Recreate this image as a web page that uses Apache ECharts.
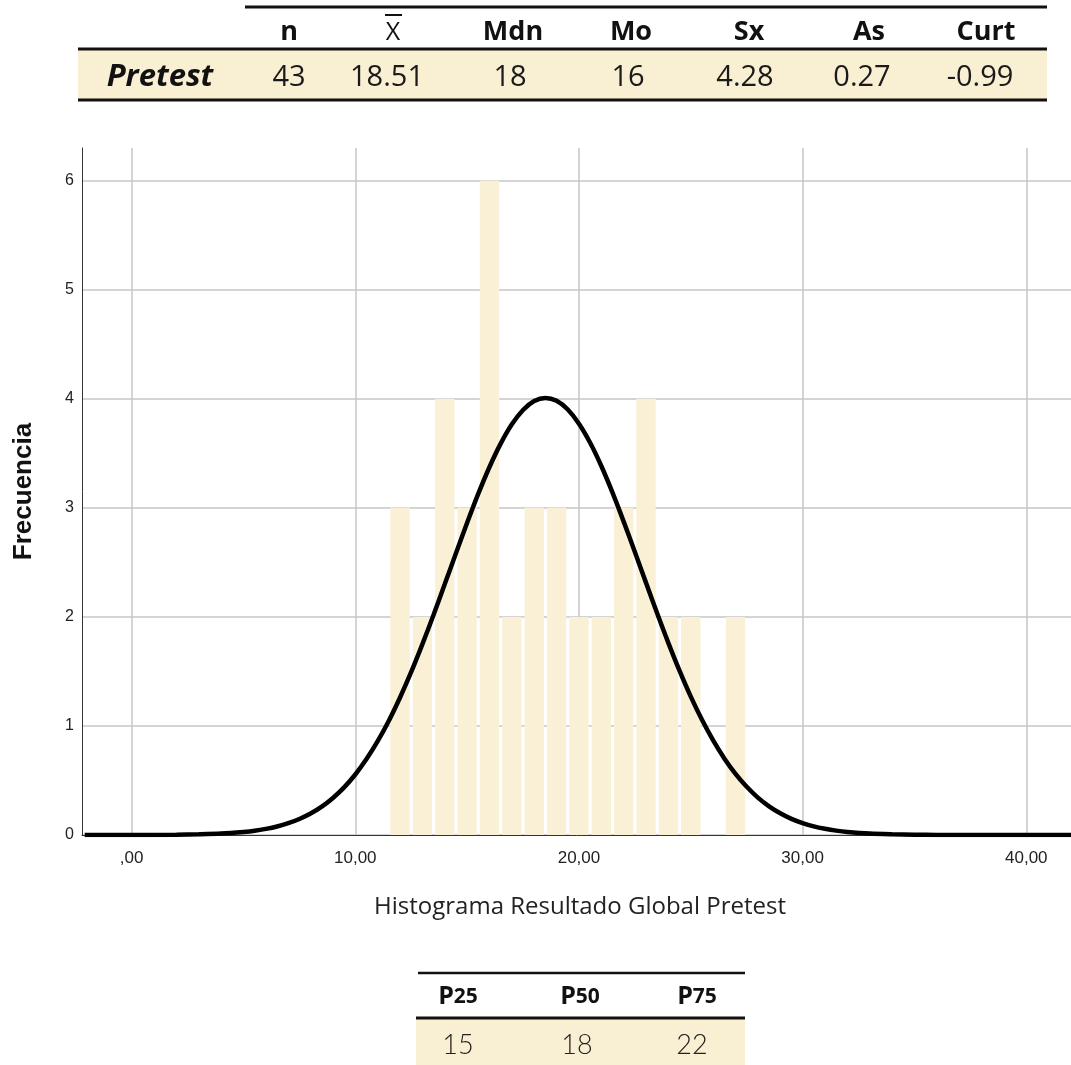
<!DOCTYPE html>
<html>
<head>
<meta charset="utf-8">
<script src="https://cdn.jsdelivr.net/npm/echarts@6/dist/echarts.min.js"></script>
<style>
html,body{margin:0;padding:0;background:#fff;}
#c{width:1071px;height:1065px;}
</style>
</head>
<body>
<div id="c"></div>
<script>
// ---- data ----
var binCenters = [12, 13, 14, 15, 16, 17, 18, 19, 20, 21, 22, 23, 24, 25, 27];
var binCounts  = [3, 2, 4, 3, 6, 2, 3, 3, 2, 2, 3, 4, 2, 2, 2];
var binWidth = 1;
// normal curve points (x, frecuencia)
var curveX = [-2.1, 0, 2, 3, 4, 5, 5.5, 6, 6.5, 7, 7.5, 8, 8.5, 9, 9.5, 10, 10.5, 11, 11.5, 12, 12.5, 13, 13.5, 14, 14.5, 15, 15.5, 16, 16.5, 17, 17.5, 18, 18.5, 19, 19.5, 20, 20.5, 21, 21.5, 22, 22.5, 23, 23.5, 24, 24.5, 25, 25.5, 26, 26.5, 27, 27.5, 28, 28.5, 29, 29.5, 30, 30.5, 31, 31.5, 32, 33, 34, 35, 36, 38, 40, 42];
var curveY = [0, 0, 0.002, 0.006, 0.013, 0.028, 0.039, 0.056, 0.078, 0.108, 0.147, 0.197, 0.260, 0.340, 0.437, 0.555, 0.696, 0.860, 1.048, 1.261, 1.495, 1.750, 2.020, 2.301, 2.584, 2.863, 3.130, 3.375, 3.589, 3.766, 3.898, 3.980, 4.008, 3.982, 3.902, 3.772, 3.597, 3.384, 3.140, 2.874, 2.596, 2.312, 2.031, 1.760, 1.505, 1.269, 1.056, 0.867, 0.702, 0.560, 0.442, 0.343, 0.263, 0.199, 0.148, 0.109, 0.079, 0.057, 0.040, 0.028, 0.013, 0.006, 0.002, 0.001, 0, 0, 0];
var xTickValues = [0, 10, 20, 30, 40];
var xTickLabels = [',00', '10,00', '20,00', '30,00', '40,00'];
var yTickValues = [0, 1, 2, 3, 4, 5, 6];
var statHeaders = ['n', 'X', 'Mdn', 'Mo', 'Sx', 'As', 'Curt'];
var statValues  = ['43', '18.51', '18', '16', '4.28', '0.27', '-0.99'];
var rowLabel = 'Pretest';
var pctHeaders = ['25', '50', '75'];
var pctValues  = ['15', '18', '22'];
var xTitle = 'Histograma Resultado Global Pretest';
var yTitle = 'Frecuencia';

// ---- build ----
var barData = binCenters.map(function (c, i) { return [c, binCounts[i]]; });
var curveData = curveX.map(function (x, i) { return [x, curveY[i]]; });

var cream = '#f9efd3';
var headX = [289, 393, 513, 631, 749, 869, 986];
var valX  = [289, 387, 510, 628, 745, 862, 980];
var pctHX = [458, 580, 697];
var pctVX = [458, 577, 692];

function txt(t, x, y, font, fill) {
  return {type:'text', z:3, style:{text:t, x:x, y:y, font:font, fill:fill,
    textAlign:'center', textVerticalAlign:'middle', align:'center', verticalAlign:'middle'}};
}

var g = [];
// top table
g.push({type:'rect', shape:{x:78, y:50, width:969, height:50}, style:{fill:cream}, z:1});
g.push({type:'line', shape:{x1:245, y1:7, x2:1047, y2:7}, style:{stroke:'#111', lineWidth:3}, z:2});
g.push({type:'line', shape:{x1:78, y1:49, x2:1047, y2:49}, style:{stroke:'#111', lineWidth:3}, z:2});
g.push({type:'line', shape:{x1:78, y1:100, x2:1047, y2:100}, style:{stroke:'#111', lineWidth:3}, z:2});
statHeaders.forEach(function (h, i) {
  if (h === 'X') g.push(txt(h, headX[i], 33, 'normal 25px "Open Sans"', '#111'));
  else g.push(txt(h, headX[i], 32, 'bold 27px "Open Sans"', '#111'));
});
g.push({type:'line', shape:{x1:385, y1:15, x2:402, y2:15}, style:{stroke:'#111', lineWidth:2}, z:3});
g.push(txt(rowLabel, 160, 77, 'italic bold 31px "Open Sans"', '#111'));
statValues.forEach(function (v, i) {
  g.push(txt(v, valX[i], 78, 'normal 29px "Open Sans"', '#1a1a1a'));
});
// x title
g.push(txt(xTitle, 580, 907, 'normal 24px "Open Sans"', '#222'));
// bottom table
g.push({type:'rect', shape:{x:416, y:1019, width:329, height:46}, style:{fill:cream}, z:1});
g.push({type:'line', shape:{x1:418, y1:973, x2:745, y2:973}, style:{stroke:'#111', lineWidth:2.5}, z:2});
g.push({type:'line', shape:{x1:416, y1:1018, x2:745, y2:1018}, style:{stroke:'#111', lineWidth:3}, z:2});
pctHeaders.forEach(function (h, i) {
  g.push({type:'text', z:3, style:{text:'{p|P}{s|' + h + '}', x:pctHX[i], y:997,
    textAlign:'center', textVerticalAlign:'middle', align:'center', verticalAlign:'middle',
    rich:{p:{font:'bold 25px "Open Sans"', fill:'#111'}, s:{font:'bold 21px "Open Sans"', fill:'#111'}}}});
});
pctValues.forEach(function (v, i) {
  g.push(txt(v, pctVX[i], 1045, '300 27px Lato', '#222'));
});

var chart = echarts.init(document.getElementById('c'), null, {renderer:'canvas'});
chart.setOption({
  animation:false,
  backgroundColor:'#fff',
  grid:{left:82, right:0, top:148, bottom:230, containLabel:false, outerBoundsMode:'none'},
  xAxis:{
    type:'value', min:-2.22, max:42,
    axisLine:{show:true, onZero:false, lineStyle:{color:'#333', width:1}},
    axisTick:{show:false, customValues:xTickValues},
    axisLabel:{customValues:xTickValues, margin:15, color:'#222', fontSize:17, fontFamily:'Liberation Sans',
      formatter:function (v) { var k = xTickValues.indexOf(v); return k >= 0 ? xTickLabels[k] : ''; }},
    splitLine:{show:true, lineStyle:{color:'#c6c6c6', width:1.5}}
  },
  yAxis:{
    type:'value', min:0, max:6.3,
    name:yTitle, nameLocation:'middle', nameRotate:90, nameGap:45,
    nameTextStyle:{fontFamily:'Liberation Sans', fontWeight:'bold', fontSize:26, color:'#111'},
    axisLine:{show:true, onZero:false, lineStyle:{color:'#333', width:1}},
    axisTick:{show:false, customValues:yTickValues},
    axisLabel:{customValues:yTickValues, margin:8, color:'#222', fontSize:16, fontFamily:'Liberation Sans'},
    splitLine:{show:true, lineStyle:{color:'#c6c6c6', width:1.5}}
  },
  series:[
    {type:'custom', data:barData, encode:{x:0, y:1}, z:2, silent:true,
     renderItem:function (params, api) {
       var x = api.value(0), c = api.value(1);
       var p0 = api.coord([x - binWidth / 2, 0]);
       var p1 = api.coord([x + binWidth / 2, c]);
       return {type:'rect',
         shape:{x:p0[0] + 1.5, y:p1[1], width:(p1[0] - p0[0]) - 3, height:p0[1] - p1[1]},
         style:{fill:'#faf0d6'}};
     }},
    {type:'line', data:curveData, smooth:0.3, showSymbol:false, symbol:'none',
     lineStyle:{color:'#000', width:4.5}, z:3, silent:true}
  ],
  graphic:{elements:g}
});
</script>
</body>
</html>
